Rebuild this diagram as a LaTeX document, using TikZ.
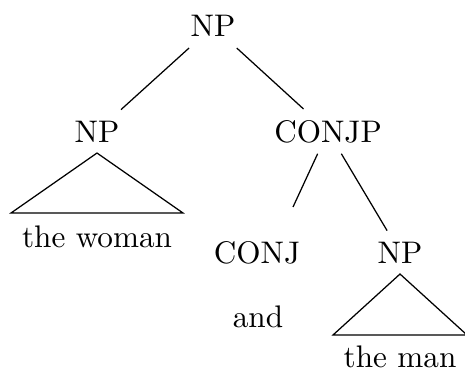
\documentclass[tikz,border=0pt]{standalone}
\begin{document}
\begin{tikzpicture}[x=0.3205pt,y=-0.3205pt,
  label/.style={anchor=base},
  branch/.style={line width=0.4pt}]
\useasboundingbox (0,0) rectangle (465,369);
% tree labels (positions are baselines)
\node[label] (root)  at (213,37)  {NP};
\node[label] (np1)   at (97,142)  {NP};
\node[label] (conjp) at (328,142) {CONJP};
\node[label] (woman) at (97,247)  {the woman};
\node[label] (conj)  at (257,263) {CONJ};
\node[label] (np2)   at (400,263) {NP};
\node[label] (and)   at (258,327) {and};
\node[label] (man)   at (400,367) {the man};
% free end of the CONJ branch and triangle corners
\coordinate (conjtop) at (293,207);
\coordinate (t1l) at (11,213);
\coordinate (t1r) at (183,213);
\coordinate (t2l) at (333,335);
\coordinate (t2r) at (467,335);
% branches
\draw[branch] (root) -- (np1);
\draw[branch] (root) -- (conjp);
\draw[branch] (conjp) -- (conjtop);
\draw[branch] (conjp) -- (np2);
% triangles over unanalysed phrases
\draw[branch] (np1.south) -- (t1l) -- (t1r) -- cycle;
\draw[branch] (np2.south) -- (t2l) -- (t2r) -- cycle;
\end{tikzpicture}
\end{document}
